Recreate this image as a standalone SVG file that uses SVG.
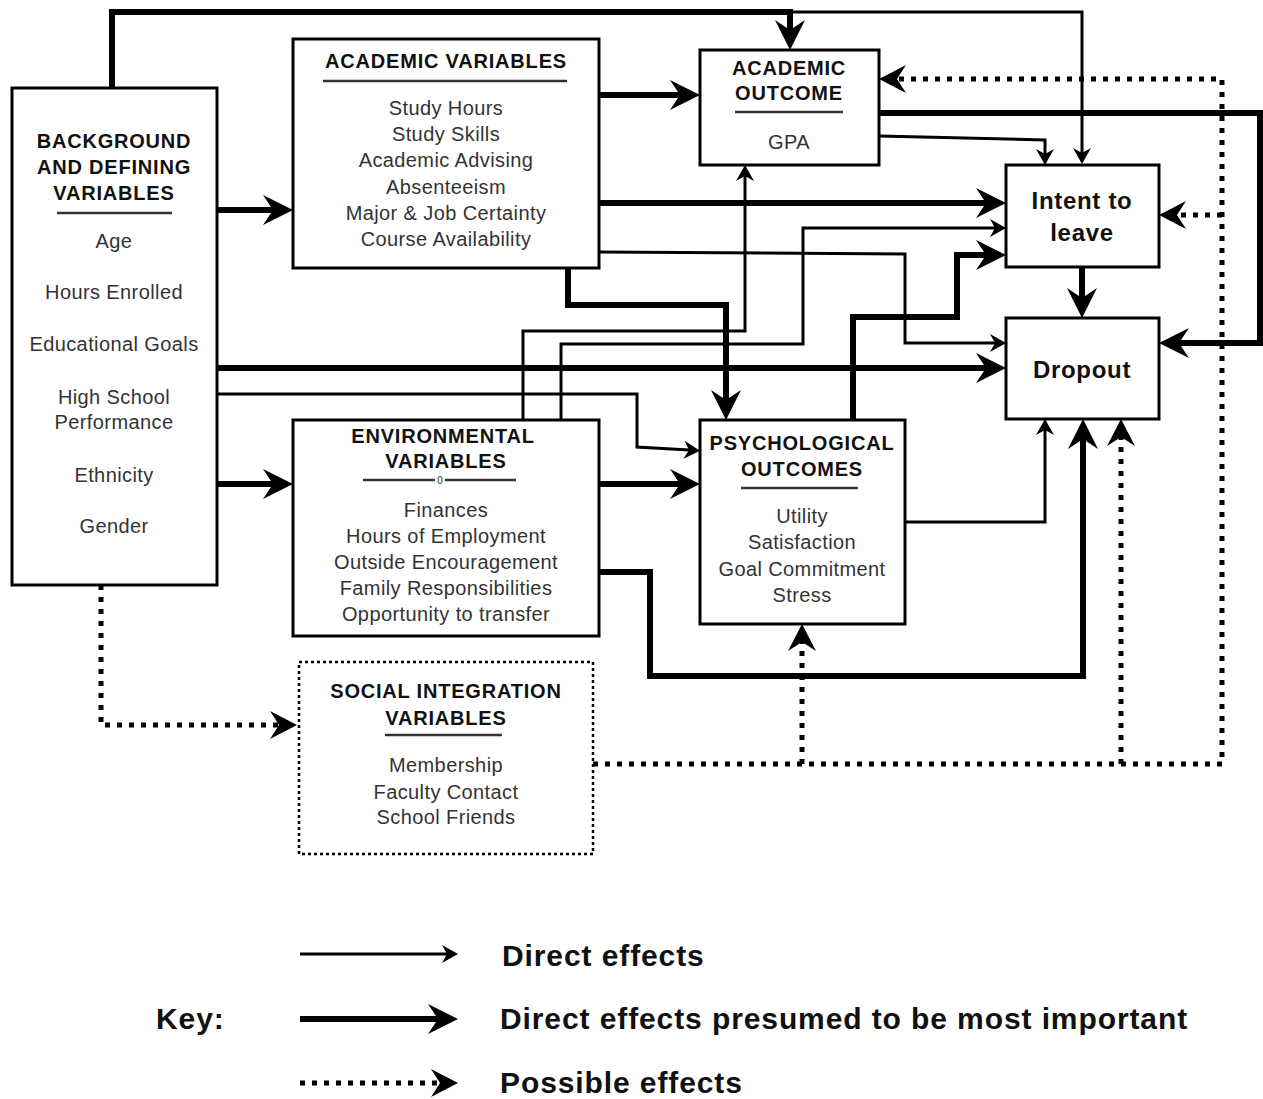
<svg xmlns="http://www.w3.org/2000/svg" width="1263" height="1099" viewBox="0 0 1263 1099">
  <style>
    .box { fill: #fff; stroke: #000; stroke-width: 3; }
    .dbox { fill: #fff; stroke: #000; stroke-width: 2.5; stroke-dasharray: 3 3; }
    .hd { font-family: "Liberation Sans", Arial, sans-serif; font-weight: bold; font-size: 20px; letter-spacing: 0.8px; fill: #111; text-anchor: middle; }
    .tx { font-family: "Liberation Sans", Arial, sans-serif; font-size: 20px; letter-spacing: 0.4px; fill: #333; text-anchor: middle; }
    .big { font-family: "Liberation Sans", Arial, sans-serif; font-weight: bold; font-size: 24px; letter-spacing: 0.7px; fill: #111; text-anchor: middle; }
    .key { font-family: "Liberation Sans", Arial, sans-serif; font-weight: bold; font-size: 30px; letter-spacing: 0.9px; fill: #111; }
    .ul { stroke: #333; stroke-width: 2.5; }
    .thick { fill: none; stroke: #000; stroke-width: 6; marker-end: url(#hThick); }
    .thin { fill: none; stroke: #000; stroke-width: 3; marker-end: url(#hThin); }
    .dot { fill: none; stroke: #000; stroke-width: 5; stroke-dasharray: 5 7; marker-end: url(#hDot); }
  </style>
  <defs>
    <marker id="hThick" markerUnits="userSpaceOnUse" markerWidth="30" markerHeight="30" viewBox="0 0 30 30" refX="10" refY="15" orient="auto">
      <path d="M0,0 L30,15 L0,30 L10,15 Z" fill="#000"/>
    </marker>
    <marker id="hThin" markerUnits="userSpaceOnUse" markerWidth="16" markerHeight="18" viewBox="0 0 16 18" refX="5" refY="9" orient="auto">
      <path d="M0,0 L16,9 L0,18 L5,9 Z" fill="#000"/>
    </marker>
    <marker id="hDot" markerUnits="userSpaceOnUse" markerWidth="27" markerHeight="28" viewBox="0 0 27 28" refX="9" refY="14" orient="auto">
      <path d="M0,0 L27,14 L0,28 L9,14 Z" fill="#000"/>
    </marker>
  </defs>

  <rect width="1263" height="1099" fill="#fff"/>

  <!-- connectors -->
  <g id="connectors">
    <!-- most important effects -->
    <path class="thick" d="M112,88 V12 H790 V30"/>
    <path class="thick" d="M217,210 H273"/>
    <path class="thick" d="M217,368 H986"/>
    <path class="thick" d="M217,484 H273"/>
    <path class="thick" d="M599,95 H680"/>
    <path class="thick" d="M599,203 H986"/>
    <path class="thick" d="M568,268 V305 H726 V400"/>
    <path class="thick" d="M853,420 V317 H957 V255 H986"/>
    <path class="thick" d="M599,484 H680"/>
    <path class="thick" d="M599,572 H650 V676 H1083 V439"/>
    <path class="thick" d="M879,113 H1260 V343 H1179"/>
    <path class="thick" d="M1082,267 V298"/>
    <!-- direct effects -->
    <path class="thin" d="M790,12 H1082 V153"/>
    <path class="thin" d="M217,394 H637 V447 L689,450"/>
    <path class="thin" d="M599,252 L905,254 V343 H995"/>
    <path class="thin" d="M879,136 L1045,140 V154"/>
    <path class="thin" d="M523,420 V331 H745 V176"/>
    <path class="thin" d="M561,420 V344 H803 V228 H995"/>
    <path class="thin" d="M905,522 H1045 V430"/>
    <!-- possible effects -->
    <path class="dot" d="M101,585 V725 H279"/>
    <path class="dot" d="M593,764 H1222 V79 H897"/>
    <path class="dot" d="M1222,215 H1177"/>
    <path class="dot" d="M802,764 V642"/>
    <path class="dot" d="M1121,764 V437"/>
  </g>

  <!-- nodes -->
  <g id="background">
    <rect class="box" x="12" y="88" width="205" height="497"/>
    <text class="hd" x="114" y="148">BACKGROUND</text>
    <text class="hd" x="114" y="174">AND DEFINING</text>
    <text class="hd" x="114" y="200">VARIABLES</text>
    <line class="ul" x1="57" y1="213" x2="172" y2="213"/>
    <text class="tx" x="114" y="248">Age</text>
    <text class="tx" x="114" y="299">Hours Enrolled</text>
    <text class="tx" x="114" y="351">Educational Goals</text>
    <text class="tx" x="114" y="404">High School</text>
    <text class="tx" x="114" y="429">Performance</text>
    <text class="tx" x="114" y="482">Ethnicity</text>
    <text class="tx" x="114" y="533">Gender</text>
  </g>

  <g id="academic-variables">
    <rect class="box" x="293" y="39" width="306" height="229"/>
    <text class="hd" x="446" y="68">ACADEMIC VARIABLES</text>
    <line class="ul" x1="323" y1="81" x2="567" y2="81"/>
    <text class="tx" x="446" y="115">Study Hours</text>
    <text class="tx" x="446" y="141">Study Skills</text>
    <text class="tx" x="446" y="167">Academic Advising</text>
    <text class="tx" x="446" y="194">Absenteeism</text>
    <text class="tx" x="446" y="220">Major &amp; Job Certainty</text>
    <text class="tx" x="446" y="246">Course Availability</text>
  </g>

  <g id="academic-outcome">
    <rect class="box" x="700" y="50" width="179" height="115"/>
    <text class="hd" x="789" y="75">ACADEMIC</text>
    <text class="hd" x="789" y="100">OUTCOME</text>
    <line class="ul" x1="735" y1="112" x2="843" y2="112"/>
    <text class="tx" x="789" y="149">GPA</text>
  </g>

  <g id="intent-to-leave">
    <rect class="box" x="1006" y="165" width="153" height="102"/>
    <text class="big" x="1082" y="209">Intent to</text>
    <text class="big" x="1082" y="241">leave</text>
  </g>

  <g id="dropout">
    <rect class="box" x="1006" y="318" width="153" height="101"/>
    <text class="big" x="1082" y="378">Dropout</text>
  </g>

  <g id="environmental-variables">
    <rect class="box" x="293" y="420" width="306" height="216"/>
    <text class="hd" x="443" y="443">ENVIRONMENTAL</text>
    <text class="hd" x="446" y="468">VARIABLES</text>
    <line class="ul" x1="363" y1="480" x2="435" y2="480"/>
    <line class="ul" x1="445" y1="480" x2="516" y2="480"/>
    <text x="440" y="484" font-family="Liberation Sans, Arial, sans-serif" font-size="10" fill="#333" text-anchor="middle">0</text>
    <text class="tx" x="446" y="517">Finances</text>
    <text class="tx" x="446" y="543">Hours of Employment</text>
    <text class="tx" x="446" y="569">Outside Encouragement</text>
    <text class="tx" x="446" y="595">Family Responsibilities</text>
    <text class="tx" x="446" y="621">Opportunity to transfer</text>
  </g>

  <g id="psychological-outcomes">
    <rect class="box" x="700" y="420" width="205" height="204"/>
    <text class="hd" x="802" y="450">PSYCHOLOGICAL</text>
    <text class="hd" x="802" y="476">OUTCOMES</text>
    <line class="ul" x1="741" y1="488" x2="858" y2="488"/>
    <text class="tx" x="802" y="523">Utility</text>
    <text class="tx" x="802" y="549">Satisfaction</text>
    <text class="tx" x="802" y="576">Goal Commitment</text>
    <text class="tx" x="802" y="602">Stress</text>
  </g>

  <g id="social-integration">
    <rect class="dbox" x="299" y="662" width="294" height="192"/>
    <text class="hd" x="446" y="698">SOCIAL INTEGRATION</text>
    <text class="hd" x="446" y="725">VARIABLES</text>
    <line class="ul" x1="385" y1="735" x2="502" y2="735"/>
    <text class="tx" x="446" y="772">Membership</text>
    <text class="tx" x="446" y="799">Faculty Contact</text>
    <text class="tx" x="446" y="824">School Friends</text>
  </g>

  <!-- key -->
  <g id="key">
    <path class="thin" d="M300,954 H447"/>
    <path class="thick" d="M300,1019 H438"/>
    <path class="dot" d="M300,1083 H440"/>
    <text class="key" x="502" y="966">Direct effects</text>
    <text class="key" x="156" y="1029">Key:</text>
    <text class="key" x="500" y="1029">Direct effects presumed to be most important</text>
    <text class="key" x="500" y="1093">Possible effects</text>
  </g>
</svg>
